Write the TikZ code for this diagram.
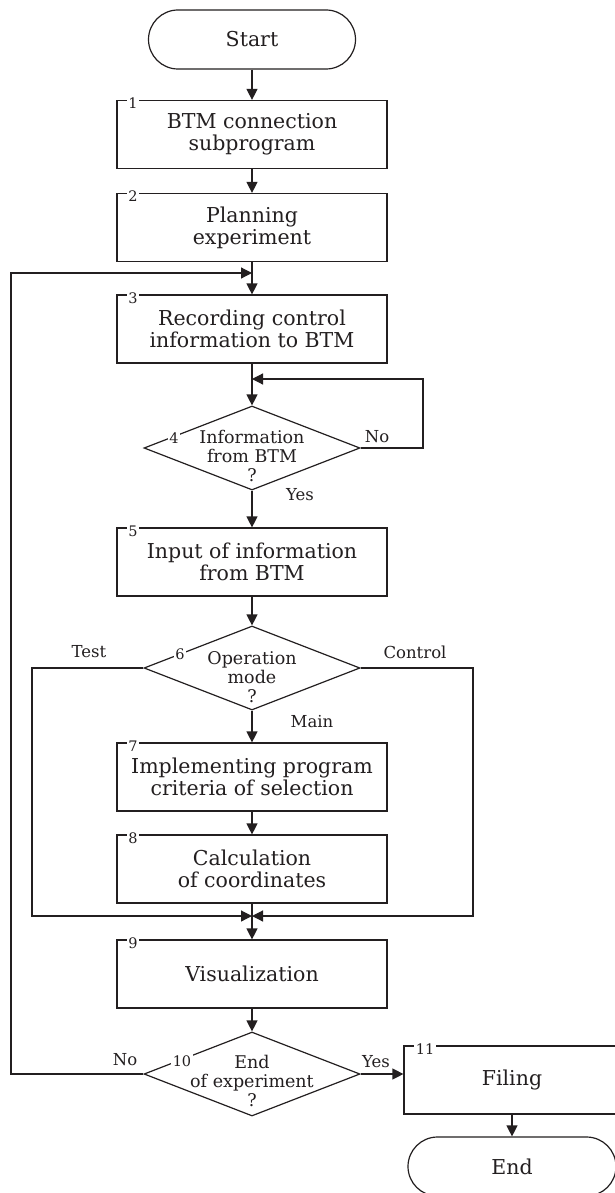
\documentclass[tikz,border=0pt]{standalone}
\usepackage{fontspec}
\setmainfont{DejaVu Serif}
\usetikzlibrary{arrows.meta,shapes.geometric,shapes.misc}
\definecolor{ink}{RGB}{35,31,32}
\tikzset{
  box/.style={draw, rectangle, minimum width=270pt, minimum height=68pt, inner sep=0pt, align=center, font=\fontsize{20.5}{22}\selectfont},
  term/.style={draw, rounded rectangle, minimum width=207pt, minimum height=59pt, inner sep=0pt, font=\fontsize{20.5}{22}\selectfont},
  dia/.style={draw, diamond, minimum width=216pt, minimum height=84pt, inner sep=0pt},
  dtext/.style={align=center, inner sep=0pt, font=\fontsize{17.5}{19}\selectfont},
  num/.style={fill=white, inner sep=1.5pt, font=\fontsize{14.5}{15}\selectfont},
  lbl/.style={inner sep=0pt, font=\fontsize{16.5}{17}\selectfont},
  arr/.style={-{Triangle[length=11pt,width=11pt]}}
}
\begin{document}
\begin{tikzpicture}[x=1pt,y=-1pt,line width=1.2pt,color=ink]
\useasboundingbox (0,0) rectangle (615,1193);
\clip (0,0) rectangle (615,1193);
\fill[white] (0,0) rectangle (615,1193);

% nodes
\node[term] (start) at (252,39.5) {Start};
\node[box] (b1) at (252,134.5) {BTM connection\\subprogram};
\node[box] (b2) at (252,227.5) {Planning\\experiment};
\node[box] (b3) at (252,329) {Recording control\\information to BTM};
\node[dia] (d4) at (252,448) {};
\node[dtext] (d4t) at (252,456) {Information\\from BTM\\?};
\node[box] (b5) at (252,562) {Input of information\\from BTM};
\node[dia] (d6) at (252,668) {};
\node[dtext] (d6t) at (252,677) {Operation\\mode\\?};
\node[box] (b7) at (252,777) {Implementing program\\criteria of selection};
\node[box] (b8) at (252,869) {Calculation\\of coordinates};
\node[box] (b9) at (252,974) {Visualization};
\node[dia] (d10) at (252,1074) {};
\node[dtext] (d10t) at (252,1081) {End\\of experiment\\?};
\node[box, minimum width=216pt] (b11) at (512,1080) {Filing};
\node[term, minimum width=208pt] (end) at (512,1166.5) {End};

% number labels
\node[num] (n1) at (133,103) {1};
\node[num] (n2) at (133,196) {2};
\node[num] (n3) at (133,298) {3};
\node[num] (n4) at (174,438) {4};
\node[num] (n5) at (133,531) {5};
\node[num] (n6) at (180,654) {6};
\node[num] (n7) at (133,746) {7};
\node[num] (n8) at (133,838) {8};
\node[num] (n9) at (133,943) {9};
\node[num] (n10) at (182,1061) {10};
\node[num] (n11) at (425,1049) {11};

% branch labels
\node[lbl] (l4no) at (377,437) {No};
\node[lbl] (l4yes) at (300,495) {Yes};
\node[lbl] (l6test) at (89,652) {Test};
\node[lbl] (l6ctrl) at (415,652) {Control};
\node[lbl] (l6main) at (312,722) {Main};
\node[lbl] (l10no) at (125,1060) {No};
\node[lbl] (l10yes) at (376,1062) {Yes};

% coordinates
\coordinate (lx) at (11,273);
\coordinate (lj) at (252,273);
\coordinate (nr) at (423,379);
\coordinate (nj) at (252,379);
\coordinate (tl) at (32,916);
\coordinate (cr) at (473,916);
\coordinate (jn) at (252,916);

% connectors
\draw[arr] (start.south) -- (b1.north);
\draw[arr] (b1.south) -- (b2.north);
\draw[arr] (b2.south) -- (b3.north);
\draw[arr] (b3.south) -- (d4.north);
\draw[arr] (d4.east) -| (nr) -- (nj);
\draw[arr] (d4.south) -- (b5.north);
\draw[arr] (b5.south) -- (d6.north);
\draw[arr] (d6.south) -- (b7.north);
\draw[arr] (b7.south) -- (b8.north);
\draw[arr] (b8.south) -- (b9.north);
\draw[arr] (d6.west) -| (tl) -- (jn);
\draw[arr] (d6.east) -| (cr) -- (jn);
\draw[arr] (b9.south) -- (d10.north);
\draw[arr] (d10.west) -| (lx) -- (lj);
\draw[arr] (d10.east) -- (d10.east -| b11.west);
\draw[arr] (b11.south) -- (end.north);
\end{tikzpicture}
\end{document}
